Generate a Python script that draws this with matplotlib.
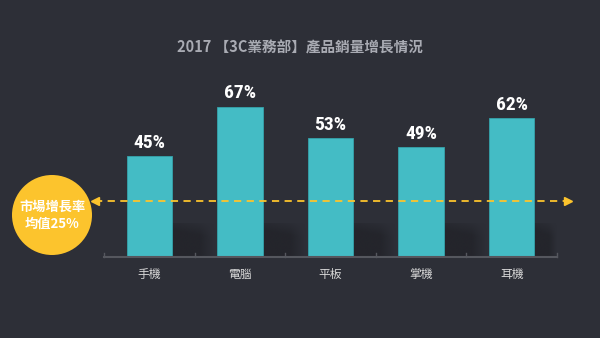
import numpy as np
import matplotlib.pyplot as plt
from matplotlib.patches import Circle
from matplotlib import font_manager
from matplotlib.colors import to_rgb

categories = ['手機', '電腦', '平板', '掌機', '耳機']
growth = [45, 67, 53, 49, 62]
market_avg = 25
title = '2017 【3C業務部】產品銷量增長情況'
badge_text = '市場增長率\n均值25%'

cjk = ['Noto Sans CJK TC', 'DejaVu Sans']
names = {f.name for f in font_manager.fontManager.ttflist}
num_font = 'DejaVu Sans'
for cand in ['Roboto Condensed', 'Liberation Sans Narrow', 'DejaVu Sans Condensed', 'Roboto']:
    if cand in names:
        num_font = cand
        break

bg = '#2d2f37'
teal = '#44bcc5'
yellow = '#fcc42d'

fig = plt.figure(figsize=(6, 3.38), dpi=100, facecolor=bg)

# overlay in pixel space for the badge
deco = fig.add_axes([0, 0, 1, 1], zorder=0)
deco.set_xlim(0, 600)
deco.set_ylim(338, 0)
deco.axis('off')
deco.set_facecolor('none')

ax = fig.add_axes([104 / 600, 81 / 338, 453 / 600, 224 / 338], zorder=1)
ax.set_facecolor('none')
ax.set_xlim(-0.5, len(categories) - 0.5)
ax.set_ylim(0, 100)
x = np.arange(len(categories))

# soft shadow block to the right of each bar, fading at the top-right
u = np.linspace(0, 1, 80)[None, :]
v = np.linspace(0, 1, 40)[:, None]
fade = np.clip((1.0 - u) / 0.35, 0, 1) * np.clip((1.0 - v + 0.25 * (1 - u)) / 0.45, 0, 1)
shadow = np.zeros((40, 80, 4))
shadow[..., :3] = to_rgb('#1e1f24')
shadow[..., 3] = 0.6 * fade
for xi in x:
    x0 = xi + 0.25
    ax.imshow(shadow, extent=[x0, min(x0 + 0.47, 4.5), 0, 15], aspect='auto',
              origin='lower', zorder=1, interpolation='bilinear')

ax.bar(x, growth, width=0.5, color=teal, edgecolor='#35a3ab', linewidth=0.6, zorder=2)

for xi, val in zip(x, growth):
    ax.text(xi, val + 2, f'{val}%', ha='center', va='bottom', color='white',
            fontsize=14, fontweight='bold', family=num_font, zorder=5)

# baseline with category separators
ax.spines[:].set_visible(False)
ax.axhline(0, color='#55575e', lw=1.5, zorder=3, clip_on=False)
for b in np.arange(-0.5, len(categories), 1.0):
    ax.plot([b, b], [0, 2], color='#55575e', lw=1, zorder=3, clip_on=False)
ax.set_xticks(x)
ax.set_xticklabels(categories, family=cjk, fontsize=8.5, color='#d8d8d8')
ax.tick_params(axis='x', length=0, pad=8)
ax.set_yticks([])

# dashed market-average line with arrowheads
ax.plot([-0.6, 4.6], [market_avg, market_avg], ls=(0, (4, 3)), color=yellow,
        lw=1.3, zorder=4, clip_on=False)
ax.plot([-0.6], [market_avg], marker='<', color=yellow, ms=6, zorder=4, clip_on=False)
ax.plot([4.62], [market_avg], marker='>', color=yellow, ms=6, zorder=4, clip_on=False)

deco.add_patch(Circle((52, 215), 40, facecolor=yellow, edgecolor='none'))
deco.text(52, 215, badge_text, ha='center', va='center', color='white',
          fontsize=9.5, fontweight='bold', family=cjk, linespacing=1.25)

fig.text(0.5, 1 - 47 / 338, title, ha='center', va='center', color='#a9abb3',
         fontsize=10.5, fontweight='bold', family=cjk)

fig.savefig('out.png', dpi=100, facecolor=bg)
